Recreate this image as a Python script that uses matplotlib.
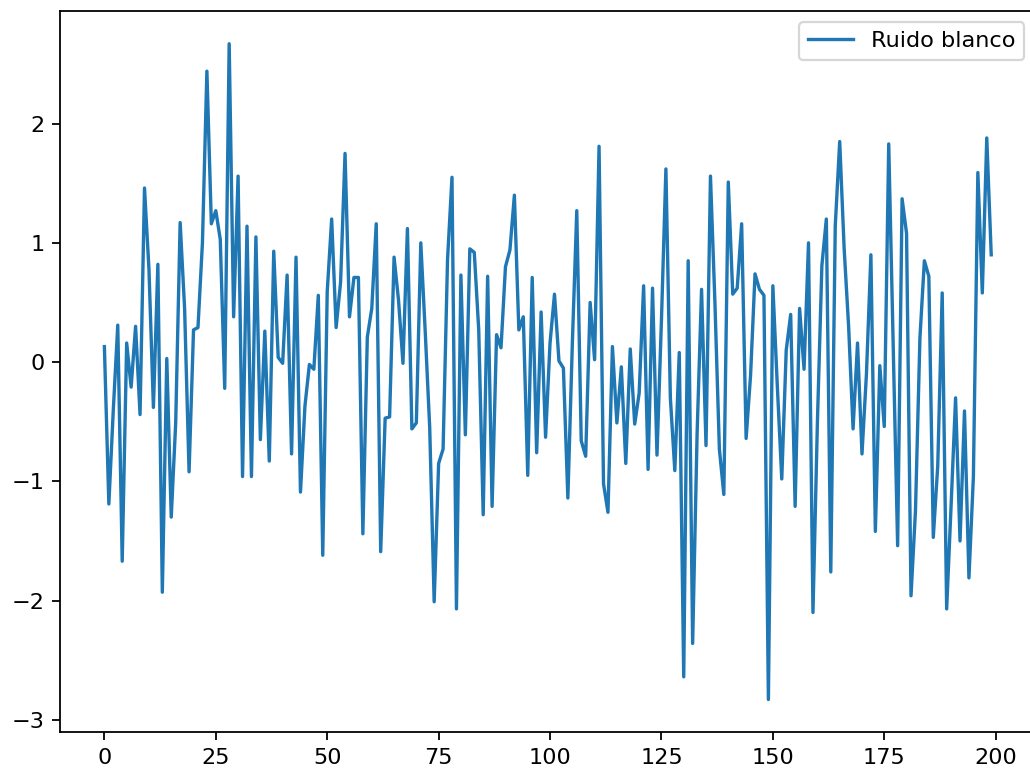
import numpy as np
import matplotlib
matplotlib.use("Agg")
import matplotlib.pyplot as plt

# valores (ruido blanco, 200 muestras)
ruido = [
    0.13, -1.19, -0.40, 0.31, -1.67, 0.16, -0.21, 0.30, -0.44, 1.46,
    0.78, -0.38, 0.82, -1.93, 0.03, -1.30, -0.51, 1.17, 0.45, -0.92,
    0.27, 0.29, 1.00, 2.44, 1.16, 1.27, 1.03, -0.22, 2.67, 0.38,
    1.56, -0.96, 1.14, -0.96, 1.05, -0.65, 0.26, -0.83, 0.93, 0.04,
    -0.01, 0.73, -0.77, 0.88, -1.09, -0.37, -0.02, -0.06, 0.56, -1.62,
    0.59, 1.20, 0.29, 0.67, 1.75, 0.38, 0.71, 0.71, -1.44, 0.21,
    0.45, 1.16, -1.59, -0.47, -0.46, 0.88, 0.52, -0.01, 1.12, -0.56,
    -0.51, 1.00, 0.25, -0.55, -2.01, -0.85, -0.73, 0.86, 1.55, -2.07,
    0.73, -0.61, 0.95, 0.92, 0.27, -1.28, 0.72, -1.21, 0.23, 0.12,
    0.80, 0.94, 1.40, 0.27, 0.38, -0.95, 0.71, -0.76, 0.42, -0.63,
    0.16, 0.57, 0.01, -0.05, -1.14, 0.15, 1.27, -0.66, -0.79, 0.50,
    0.02, 1.81, -1.02, -1.26, 0.13, -0.51, -0.04, -0.85, 0.11, -0.52,
    -0.26, 0.64, -0.90, 0.62, -0.78, 0.35, 1.62, -0.30, -0.91, 0.08,
    -2.64, 0.85, -2.36, -0.60, 0.61, -0.70, 1.56, 0.50, -0.73, -1.11,
    1.51, 0.57, 0.62, 1.16, -0.64, -0.11, 0.74, 0.61, 0.56, -2.83,
    0.64, -0.20, -0.98, 0.10, 0.40, -1.21, 0.45, -0.06, 1.00, -2.10,
    -0.50, 0.81, 1.20, -1.76, 1.14, 1.85, 0.95, 0.30, -0.56, 0.16,
    -0.77, -0.10, 0.90, -1.42, -0.03, -0.54, 1.83, 0.15, -1.54, 1.37,
    1.08, -1.96, -1.25, 0.20, 0.85, 0.72, -1.47, -0.87, 0.58, -2.07,
    -1.20, -0.30, -1.50, -0.41, -1.81, -0.96, 1.59, 0.58, 1.88, 0.90,
]

fig, ax = plt.subplots(figsize=(1030/161, 774/161), dpi=161)
# the original is cropped on the right, so the axes run past the edge
fig.subplots_adjust(left=0.0583, right=1.0054, top=0.9858, bottom=0.0539)
ax.plot(np.arange(len(ruido)), ruido, label="Ruido blanco")
ax.legend(loc="upper right")

fig.savefig("out.png", dpi=161)
